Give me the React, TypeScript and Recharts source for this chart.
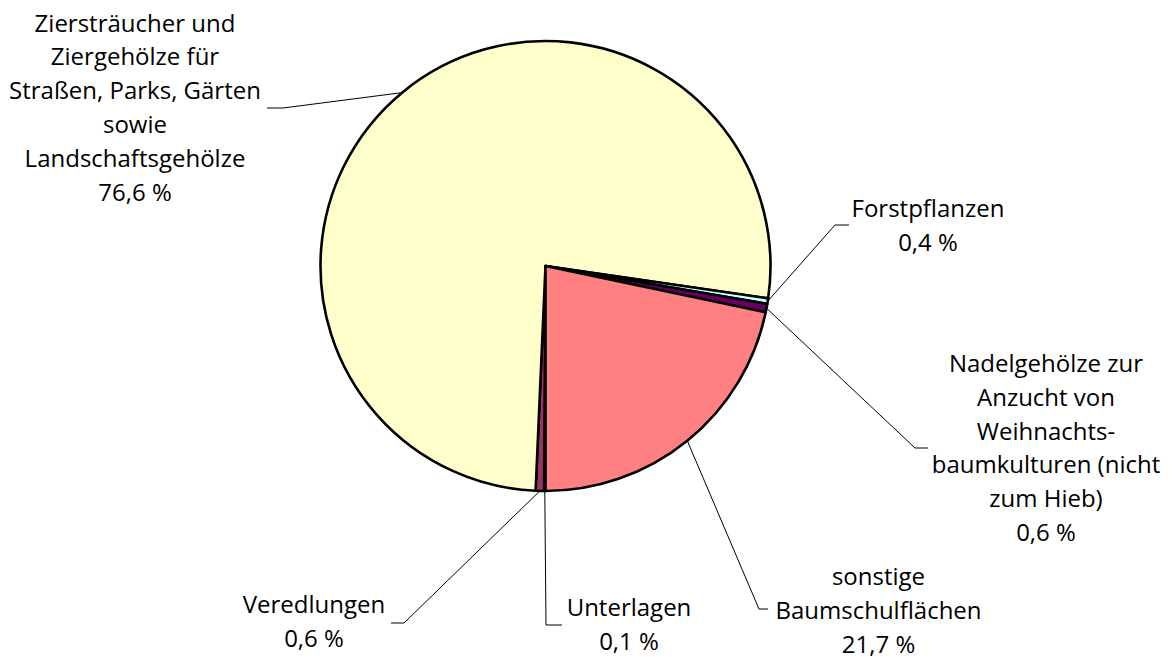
import { PieChart, Pie, Cell } from 'recharts';

const categories = [
  'Unterlagen',
  'Veredlungen',
  'Ziersträucher und Ziergehölze für Straßen, Parks, Gärten sowie Landschaftsgehölze',
  'Forstpflanzen',
  'Nadelgehölze zur Anzucht von Weihnachtsbaumkulturen (nicht zum Hieb)',
  'sonstige Baumschulflächen',
];

const shares = [0.1, 0.6, 76.6, 0.4, 0.6, 21.7];

const labelLines = [
  ['Unterlagen'],
  ['Veredlungen'],
  ['Ziersträucher und', 'Ziergehölze für', 'Straßen, Parks, Gärten', 'sowie', 'Landschaftsgehölze'],
  ['Forstpflanzen'],
  ['Nadelgehölze zur', 'Anzucht von', 'Weihnachts-', 'baumkulturen (nicht', 'zum Hieb)'],
  ['sonstige', 'Baumschulflächen'],
];

const colors = ['#9999FF', '#993366', '#FFFFCC', '#CCFFFF', '#660066', '#FF8080'];

// where Excel had the labels dragged to: text centre + first baseline, leader bend + end
const labelLayout = [
  { tx: 629, ty: 616, bend: [546, 625], end: [562, 625] },
  { tx: 314, ty: 613, bend: [404, 623], end: [391, 623] },
  { tx: 135, ty: 31.5, bend: [283, 108], end: [267, 108] },
  { tx: 928, ty: 217, bend: [835, 225], end: [849, 225] },
  { tx: 1046, ty: 372, bend: [915, 448], end: [928, 448] },
  { tx: 878.5, ty: 585, bend: [759, 609], end: [768, 609] },
];

const LINE_H = 33.8;
const RADIAN = Math.PI / 180;
const FONT = '"Open Sans", "Noto Sans", sans-serif';

const data = categories.map((name, i) => ({ name, value: shares[i] }));

const fmt = (v: number) => v.toFixed(1).replace('.', ',') + ' %';

function renderLabel(props: any) {
  const i = props.index;
  const lay = labelLayout[i];
  const lines = [...labelLines[i], fmt(shares[i])];
  return (
    <text
      key={'lbl' + i}
      x={lay.tx}
      y={lay.ty}
      textAnchor="middle"
      fontFamily={FONT}
      fontSize={24}
      fill="#000"
    >
      {lines.map((l, k) => (
        <tspan key={k} x={lay.tx} y={lay.ty + k * LINE_H}>
          {l}
        </tspan>
      ))}
    </text>
  );
}

function renderLabelLine(props: any) {
  const i = props.index;
  const lay = labelLayout[i];
  const { cx, cy, outerRadius, midAngle } = props;
  const sx = cx + outerRadius * Math.cos(-midAngle * RADIAN);
  const sy = cy + outerRadius * Math.sin(-midAngle * RADIAN);
  const pts = `${sx},${sy} ${lay.bend[0]},${lay.bend[1]} ${lay.end[0]},${lay.end[1]}`;
  return <polyline key={'ll' + i} points={pts} fill="none" stroke="#000" strokeWidth={1} />;
}

export default function App() {
  return (
    <div style={{ position: 'absolute', left: 0, top: 0, width: 1173, height: 657, background: '#fff' }}>
      <PieChart width={1173} height={657} margin={{ top: 0, right: 0, bottom: 0, left: 0 }}>
        <Pie
          data={data}
          dataKey="value"
          nameKey="name"
          cx={545.5}
          cy={266}
          outerRadius={225}
          startAngle={270}
          endAngle={-90}
          stroke="#000"
          strokeWidth={2.6}
          strokeLinejoin="round"
          label={renderLabel}
          labelLine={renderLabelLine}
          isAnimationActive={false}
        >
          {data.map((d, i) => (
            <Cell key={d.name} fill={colors[i]} />
          ))}
        </Pie>
      </PieChart>
    </div>
  );
}
